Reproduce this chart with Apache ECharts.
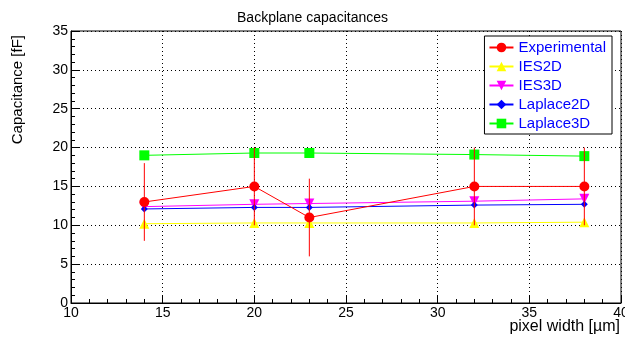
<!DOCTYPE html>
<html>
<head>
<meta charset="utf-8">
<script src="https://cdn.jsdelivr.net/npm/echarts@6/dist/echarts.min.js"></script>
<style>
  html, body {margin: 0; padding: 0; background: #fff;}
  #main {width: 625px; height: 342px;}
</style>
</head>
<body>
<div id="main"></div>
<script>
// pixel width [um]
const widths = [14, 20, 23, 32, 38];
const experimental = [13, 15, 11, 15, 15];
const experimentalErr = [5, 5, 5, 5, 5];
const ies2d = [10.2, 10.3, 10.3, 10.3, 10.4];
const ies3d = [12.4, 12.7, 12.8, 13.1, 13.4];
const laplace2d = [12.1, 12.3, 12.3, 12.6, 12.7];
const laplace3d = [19.0, 19.3, 19.3, 19.1, 18.9];

const font = 'Liberation Sans, Arial, sans-serif';
const pairs = arr => widths.map((w, i) => [w, arr[i]]);

const chart = echarts.init(document.getElementById('main'));

function lineSeries(name, data, color, symbol, size, extra) {
    return Object.assign({
        name: name, type: 'line', data: pairs(data),
        symbol: symbol, symbolSize: size,
        lineStyle: {color: color, width: 1},
        itemStyle: {color: color},
        emphasis: {disabled: true}, z: 3
    }, extra || {});
}

chart.setOption({
    animation: false,
    title: {
        text: 'Backplane capacitances', left: 'center', top: 6,
        textStyle: {fontFamily: font, fontSize: 14, fontWeight: 'normal', color: '#000'}
    },
    graphic: [{
        type: 'text', right: 5, top: 319,
        style: {text: 'pixel width [µm]', font: '16px ' + font, fill: '#000'}
    }],
    grid: {
        left: 71, right: 4, top: 31, bottom: 39, containLabel: false, outerBoundsMode: 'none',
        show: true, borderColor: '#000', borderWidth: 1
    },
    legend: {
        orient: 'vertical', right: 13, top: 36, itemGap: 4, itemWidth: 24, itemHeight: 12,
        padding: [4, 6, 3, 4], borderColor: '#000', borderWidth: 1, backgroundColor: '#fff',
        textStyle: {fontFamily: font, fontSize: 15, color: '#0000ff'},
        data: ['Experimental', 'IES2D', 'IES3D', 'Laplace2D', 'Laplace3D']
    },
    xAxis: {
        type: 'value', min: 10, max: 40, interval: 5,
        axisLine: {lineStyle: {color: '#000'}},
        axisTick: {inside: true, length: 8, lineStyle: {color: '#000'}},
        minorTick: {show: true, splitNumber: 5, length: 4, lineStyle: {color: '#000'}},
        axisLabel: {fontFamily: font, fontSize: 14, color: '#000', margin: 3},
        splitLine: {show: true, lineStyle: {color: '#000', type: [1, 3]}}
    },
    yAxis: {
        type: 'value', min: 0, max: 35, interval: 5,
        name: 'Capacitance [fF]', nameLocation: 'end', nameRotate: 90, nameGap: 0,
        nameTextStyle: {fontFamily: font, fontSize: 15, color: '#000', align: 'right', verticalAlign: 'bottom', padding: [0, 4, 46, 0]},
        axisLine: {lineStyle: {color: '#000'}},
        axisTick: {inside: true, length: 8, lineStyle: {color: '#000'}},
        minorTick: {show: true, splitNumber: 5, length: 4, lineStyle: {color: '#000'}},
        axisLabel: {fontFamily: font, fontSize: 14, color: '#000', margin: 3},
        splitLine: {show: true, lineStyle: {color: '#000', type: [1, 3]}}
    },
    series: [
        lineSeries('IES2D', ies2d, '#ffff00', 'triangle', 10),
        lineSeries('IES3D', ies3d, '#ff00ff', 'path://M0,0 L10,0 L5,10 Z', 10),
        lineSeries('Laplace2D', laplace2d, '#0000ff', 'diamond', 7),
        lineSeries('Laplace3D', laplace3d, '#00ff00', 'rect', 10),
        lineSeries('Experimental', experimental, '#ff0000', 'circle', 10, {z: 5}),
        {
            name: 'Experimental errors', type: 'custom', z: 4,
            data: widths.map((w, i) => [w, experimental[i], experimentalErr[i]]),
            itemStyle: {color: '#ff0000'},
            renderItem: function (params, api) {
                const top = api.coord([api.value(0), api.value(1) + api.value(2)]);
                const bot = api.coord([api.value(0), api.value(1) - api.value(2)]);
                return {
                    type: 'line', shape: {x1: top[0], y1: top[1], x2: bot[0], y2: bot[1]},
                    style: {stroke: '#ff0000', lineWidth: 1}
                };
            }
        }
    ]
});
</script>
</body>
</html>
